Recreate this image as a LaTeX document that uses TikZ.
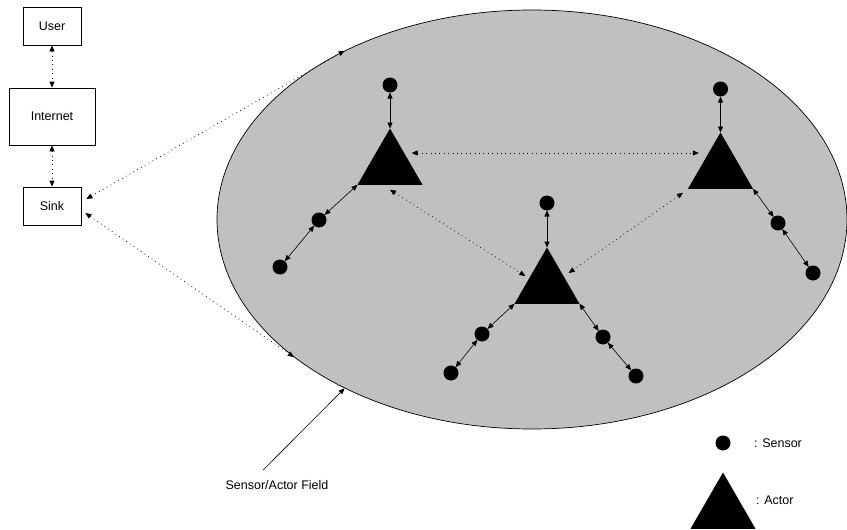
\documentclass[tikz,border=0pt]{standalone}
\usepackage{fontspec}
\setmainfont{Liberation Sans}
\usetikzlibrary{arrows.meta,shapes.geometric}
\definecolor{fieldgray}{HTML}{C0C0C0}
\begin{document}
\begin{tikzpicture}[x=1pt,y=-1pt,
  box/.style={draw, line width=0.7pt, inner sep=0, font=\fontsize{12.5}{14}\selectfont},
  sensor/.style={circle, fill=black, minimum size=15pt, inner sep=0pt, outer sep=0pt},
  actor/.style={regular polygon, regular polygon sides=3, fill=black, minimum size=75pt, inner sep=0pt, outer sep=0pt},
  tip/.tip={Triangle[length=6pt,width=5pt]},
  link/.style={line width=0.6pt, tip-tip},
  dlink/.style={line width=0.7pt, dash pattern=on 0.8pt off 3.6pt, tip-tip},
  lbl/.style={font=\fontsize{12.5}{14}\selectfont, inner sep=0pt}]
\useasboundingbox (0,0) rectangle (847,530);

% field
\node[ellipse, draw, fill=fieldgray, line width=0.7pt, minimum width=630pt, minimum height=419pt, inner sep=0pt] (field) at (532,219.5) {};

% left column
\node[box, minimum width=58pt, minimum height=38pt] (user) at (52,26) {User};
\node[box, minimum width=86pt, minimum height=57pt] (inet) at (52,116.5) {Internet};
\node[box, minimum width=58pt, minimum height=38pt] (sink) at (52,206) {Sink};
\draw[dlink] (user.south) -- (inet.north);
\draw[dlink] (inet.south) -- (sink.north);
\draw[dlink] ([shift={(5pt,7pt)}]sink.east) -- (field.138.3);
\draw[dlink] ([shift={(4pt,-7pt)}]sink.east) -- (field.210.4);

% actors
\node[actor] (a1) at (390,166) {};
\node[actor] (a2) at (720.5,170) {};
\node[actor] (a3) at (547,285) {};

% sensors
\node[sensor] (s1a) at (390,85) {};
\node[sensor] (s1b) at (319,220) {};
\node[sensor] (s1c) at (280,267) {};
\node[sensor] (s2a) at (720.5,89) {};
\node[sensor] (s2b) at (778,223) {};
\node[sensor] (s2c) at (813,273) {};
\node[sensor] (s3a) at (547,203) {};
\node[sensor] (s3b) at (482,334) {};
\node[sensor] (s3c) at (451,373) {};
\node[sensor] (s3d) at (603,337) {};
\node[sensor] (s3e) at (636,376) {};

% sensor-actor links
\draw[link] (s1a) -- (a1.corner 1);
\draw[link] (a1.corner 2) -- (s1b);
\draw[link] (s1b) -- (s1c);
\draw[link] (s2a) -- (a2.corner 1);
\draw[link] (a2.corner 3) -- (s2b);
\draw[link] (s2b) -- (s2c);
\draw[link] (s3a) -- (a3.corner 1);
\draw[link] (a3.corner 2) -- (s3b);
\draw[link] (s3b) -- (s3c);
\draw[link] (a3.corner 3) -- (s3d);
\draw[link] (s3d) -- (s3e);

% actor-actor links
\draw[dlink] ([yshift=13pt]a1.east) -- ([yshift=17pt]a2.west);
\draw[dlink] ([yshift=-5pt]a1.south) -- ([yshift=9pt]a3.west);
\draw[dlink] ([shift={(-5pt,-4pt)}]a2.corner 2) -- ([yshift=12pt]a3.east);

% field label
\node[lbl] (flabel) at (277,485) {Sensor/Actor Field};
\draw[line width=0.6pt, -tip] ([shift={(-14pt,10pt)}]flabel.north) -- (field.222.9);

% legend
\node[sensor] (lsensor) at (723,443) {};
\node[lbl, anchor=west] (lsensortext) at (754,443) {: Sensor};
\node[actor] (lactor) at (723,510) {};
\node[lbl, anchor=west] (lactortext) at (756,500) {: Actor};
\end{tikzpicture}
\end{document}
